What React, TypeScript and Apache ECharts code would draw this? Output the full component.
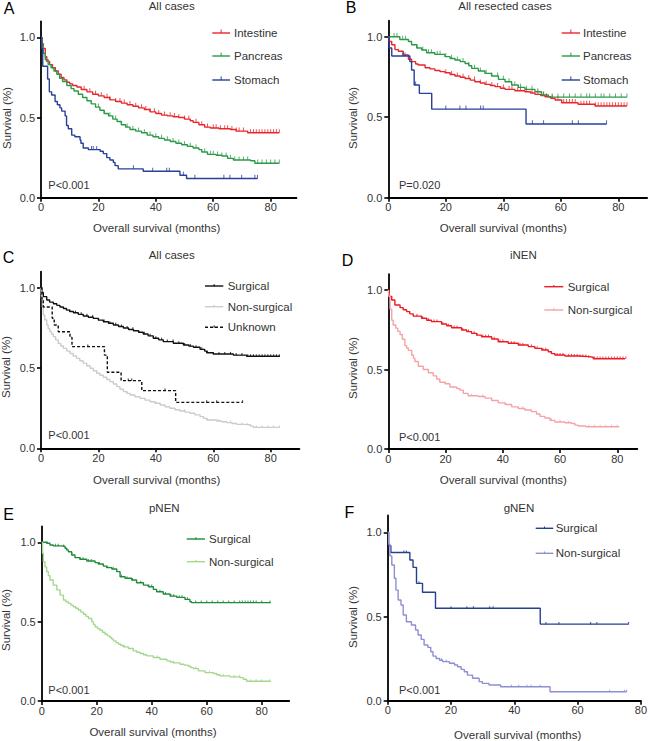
import React, { useEffect, useRef } from "react";
import * as echarts from "echarts";

type Pt = [number, number];

// ---------- Panel A: All cases ----------
const A_intestine: Pt[] = [[0,1],[0.3,0.96],[0.8,0.93],[1.5,0.88],[2,0.85],[3,0.83],[4,0.81],[5,0.79],[6,0.77],[7,0.75],[8,0.735],[9,0.72],[10,0.71],[11,0.70],[12.5,0.69],[14,0.675],[16,0.66],[18,0.645],[20,0.635],[22,0.625],[24,0.61],[26,0.60],[28,0.59],[30,0.58],[32,0.57],[34,0.56],[36,0.55],[38,0.535],[40,0.525],[42,0.515],[44,0.51],[46,0.505],[48,0.50],[50,0.49],[52,0.48],[53,0.47],[55,0.455],[57,0.44],[59,0.435],[62,0.43],[66,0.425],[68,0.415],[72,0.405],[83,0.405]];
const A_intestine_censor = [15,17,19,21,23,24,26,27.5,29,31,33,35,36.5,38,39.5,41,43,45,46.5,48,50,51.5,54,56,58,60,61,62.5,64,65,66.5,68,69,70.5,73,74,75,76,77,78,79,80,81,82,83];
const A_pancreas: Pt[] = [[0,1],[0.3,0.95],[0.8,0.9],[1.5,0.86],[2.5,0.83],[3.5,0.81],[4.5,0.79],[5.5,0.77],[6.5,0.745],[7.5,0.725],[9,0.70],[10.5,0.68],[11.5,0.665],[13,0.645],[14.5,0.625],[16,0.605],[17.5,0.585],[19,0.565],[20.5,0.545],[22,0.525],[23.5,0.51],[25,0.49],[26.5,0.475],[28,0.455],[29.5,0.44],[31,0.425],[33,0.415],[35,0.405],[37,0.39],[39,0.38],[41,0.37],[43,0.36],[45,0.35],[47,0.34],[49,0.33],[51,0.32],[53,0.31],[55,0.30],[56,0.285],[58,0.27],[61,0.265],[63,0.26],[65,0.245],[67,0.235],[73,0.23],[74.5,0.215],[83,0.215]];
const A_pancreas_censor = [20,22,24,26,28,30,32,34,36,38,40,42,44,46,48,50,52,54,57,59,60,61.5,63,64.5,66,67.5,69,70.5,72,75.5,77,78.5,80,81.5,83];
const A_stomach: Pt[] = [[0,1],[0.3,0.93],[0.6,0.82],[2.3,0.74],[2.9,0.66],[3.7,0.64],[4.9,0.60],[5.7,0.58],[6.6,0.56],[7.2,0.54],[8.4,0.51],[8.9,0.45],[9.5,0.43],[10.7,0.39],[11.8,0.38],[13.6,0.36],[13.9,0.34],[14.7,0.31],[16.5,0.30],[20.6,0.29],[21.7,0.275],[22.9,0.25],[24,0.235],[25.2,0.22],[25.8,0.20],[26.9,0.18],[35.6,0.165],[48.4,0.14],[50.7,0.12],[75.4,0.12]];
const A_stomach_censor = [17.6,18.2,19.4,32.2,38.9,43.8,44.7,49.6,53.6,63.7,65.8,69.9,74.5,75.4];

// ---------- Panel B: All resected cases ----------
const B_intestine: Pt[] = [[0,1],[0.3,0.97],[1.2,0.95],[2.3,0.92],[3.5,0.91],[5.2,0.886],[7,0.86],[8.1,0.845],[9.5,0.83],[10.4,0.824],[12.8,0.807],[14.5,0.80],[16.2,0.79],[18,0.783],[19.7,0.776],[21.5,0.765],[23.2,0.756],[25,0.748],[26.7,0.74],[28.5,0.73],[30.1,0.72],[32,0.712],[33.6,0.704],[35.5,0.697],[37.1,0.69],[39,0.68],[40.6,0.673],[44,0.664],[47.5,0.658],[49.5,0.65],[51,0.642],[53,0.635],[54.5,0.627],[56.5,0.617],[58,0.607],[60.3,0.59],[66,0.58],[71.9,0.57],[83,0.57]];
const B_intestine_censor = [20,22,24,26,28,30,32,34,36,38,40,42,43,45,46,48,50,52,54,55,57,59,61,62,63,64,65,67,68,69,70,72,73,74,75,76,77,78,79,80,81,82,83];
const B_pancreas: Pt[] = [[0,1],[4,0.983],[7,0.97],[8.1,0.95],[9.9,0.93],[11.6,0.917],[13.3,0.90],[16.2,0.89],[19.7,0.876],[21.5,0.865],[23.2,0.855],[25,0.845],[26.7,0.834],[28,0.82],[29,0.803],[31.3,0.787],[33.6,0.772],[35.9,0.756],[38.3,0.735],[40.6,0.72],[42.9,0.70],[45.2,0.685],[47.5,0.673],[51,0.658],[53.3,0.638],[55.7,0.625],[83,0.625]];
const B_pancreas_censor = [2,3,5,6,10,12,14,15,17,18,20,22,24,26,28,30,32,34,36,38,40,42,44,46,48,50,52,54,57,59,61,63,65,67,69,70,72,74,75,77,79,81,83];
const B_stomach: Pt[] = [[0,1],[0.3,0.93],[1.2,0.88],[7.5,0.845],[8.1,0.793],[9,0.70],[10.8,0.648],[15.1,0.55],[47.9,0.458],[75.9,0.458]];
const B_stomach_censor = [5,5.8,9.5,20,24.9,27,32.1,33,50.1,54,64,66.1,75.9];

// ---------- Panel C: All cases by surgery ----------
const C_surgical: Pt[] = [[0,1],[0.3,0.97],[0.8,0.944],[2,0.923],[3,0.91],[4.3,0.90],[5.5,0.89],[6.6,0.88],[7.8,0.87],[8.9,0.86],[10,0.852],[11.3,0.844],[13,0.834],[14.7,0.824],[16.5,0.816],[18.2,0.809],[20,0.798],[21.7,0.788],[23.5,0.778],[25.2,0.768],[27,0.758],[28.7,0.749],[30.5,0.74],[32.2,0.732],[34,0.722],[35.6,0.712],[37.3,0.70],[39.1,0.685],[41,0.675],[42.6,0.664],[46.1,0.654],[49.6,0.643],[51.5,0.636],[53.1,0.629],[55.4,0.616],[57,0.605],[57.7,0.595],[60,0.587],[67,0.58],[71.6,0.573],[83.2,0.573]];
const C_surgical_censor = [10,12,14,16,18,20,22,24,26,28,30,32,34,36,38,40,42,44,46,48,50,52,54,56,58,60,62,64,66,68,70,72,73,74,75,76,77,78,79,80,81,82,83];
const C_nonsurgical: Pt[] = [[0,1],[0.2,0.93],[0.5,0.88],[0.8,0.83],[1.3,0.80],[2,0.768],[2.5,0.745],[3.1,0.726],[3.7,0.71],[4.3,0.695],[5.1,0.675],[6,0.653],[6.9,0.637],[7.8,0.622],[9,0.605],[10.1,0.59],[11.2,0.575],[12.4,0.56],[13.5,0.545],[14.7,0.53],[15.9,0.514],[17.1,0.498],[18.2,0.483],[19.4,0.467],[20.5,0.455],[21.7,0.442],[22.9,0.428],[24,0.415],[25.2,0.4],[26.4,0.384],[27.5,0.368],[28.7,0.353],[29.9,0.342],[31,0.332],[32.7,0.321],[34.5,0.311],[36.2,0.30],[38,0.29],[39.7,0.28],[41.5,0.27],[43.2,0.259],[44.9,0.249],[46.7,0.24],[48.4,0.232],[50.2,0.225],[51.9,0.218],[53.6,0.208],[55.4,0.197],[56.6,0.186],[57.7,0.176],[61.2,0.17],[63,0.165],[64.7,0.16],[66.5,0.154],[68.2,0.149],[71.6,0.145],[73,0.138],[74,0.13],[83.2,0.129]];
const C_nonsurgical_censor = [30,40,50,58,62,66,70,72,75,77,79,81,83];
const C_unknown: Pt[] = [[0,1],[0.3,0.93],[0.8,0.88],[3.9,0.81],[4.6,0.768],[6,0.726],[10.1,0.69],[10.8,0.633],[22.1,0.58],[23.1,0.473],[27.9,0.421],[35.1,0.359],[46.9,0.286],[70.2,0.286]];
const C_unknown_censor = [16.3,30.4,31.6,43.2,57.7,61.2,70.2];

// ---------- Panel D: iNEN ----------
const D_surgical: Pt[] = [[0,1],[0.3,0.96],[1.2,0.937],[2.3,0.906],[4.1,0.889],[5.2,0.876],[6.4,0.864],[7.5,0.85],[8.7,0.836],[11.6,0.822],[13.4,0.81],[15.1,0.801],[18.6,0.786],[20.4,0.775],[22.1,0.763],[25.6,0.748],[27.4,0.738],[29.1,0.727],[30.9,0.716],[32.6,0.706],[36.1,0.692],[38.4,0.675],[41.9,0.665],[45.4,0.654],[48.9,0.644],[51.2,0.633],[53.6,0.623],[55.9,0.612],[57,0.60],[58.2,0.591],[61.7,0.585],[66.4,0.581],[69.9,0.577],[71.6,0.568],[82.7,0.568]];
const D_surgical_censor = [10,12,14,16,17,19,21,23,24,26,28,30,31,33,34,35,37,39,40,43,44,46,47,50,52,54,55,57,59,60,61,63,64,65,66,67,68,69,70,72,73,74,75,76,77,78,79,80,81,82,83];
const D_nonsurgical: Pt[] = [[0,1],[0.2,0.96],[0.6,0.88],[1.2,0.81],[1.7,0.78],[2.6,0.76],[3.3,0.74],[4.1,0.72],[4.9,0.69],[5.8,0.65],[6.4,0.635],[7,0.62],[8.2,0.59],[8.8,0.57],[9.3,0.55],[10.5,0.52],[12.2,0.50],[14,0.48],[15.7,0.46],[16.9,0.44],[18,0.42],[19.8,0.41],[21.5,0.39],[23.9,0.38],[25,0.37],[26.2,0.35],[27.9,0.335],[31.4,0.33],[33.8,0.32],[36.1,0.305],[38.4,0.29],[40.8,0.28],[43.1,0.265],[45.4,0.255],[47.7,0.245],[50,0.235],[51.8,0.22],[53,0.205],[54.7,0.195],[56.5,0.18],[58.2,0.17],[61.7,0.165],[64,0.16],[65.2,0.15],[66.4,0.145],[69,0.14],[80.7,0.14]];
const D_nonsurgical_censor = [20,29,33,41,47,57,60,63,70,72,74,76,78,80];

// ---------- Panel E: pNEN ----------
const E_surgical: Pt[] = [[0,1],[1.8,0.994],[3,0.983],[4.2,0.977],[7.3,0.973],[8.5,0.962],[9.1,0.952],[9.7,0.94],[10.9,0.92],[12.1,0.903],[13.9,0.893],[16.4,0.882],[19.4,0.872],[20.6,0.863],[22.4,0.85],[23.6,0.84],[25.5,0.832],[27.3,0.815],[28.5,0.783],[30.3,0.773],[32.7,0.762],[34.5,0.745],[37,0.73],[38.8,0.72],[40.6,0.703],[41.8,0.688],[44.2,0.674],[46.7,0.661],[49.1,0.653],[52.1,0.64],[53.9,0.625],[54.5,0.62],[83.3,0.62]];
const E_surgical_censor = [2,5,6,8,11,14,15,17,18,21,24,26,29,31,33,36,39,40,43,45,47,48,50,51,53,56,58,60,62,64,66,68,70,72,73,74,75,76,77,78,80,83];
const E_nonsurgical: Pt[] = [[0,1],[0.3,0.93],[0.6,0.878],[1.2,0.845],[1.8,0.815],[2.4,0.79],[3,0.762],[4.2,0.73],[5.5,0.70],[6.7,0.667],[7.9,0.636],[8.8,0.625],[9.7,0.615],[10.6,0.604],[11.5,0.594],[12.4,0.584],[13.3,0.573],[14.2,0.56],[15.2,0.547],[16.1,0.533],[17,0.52],[18.2,0.50],[18.8,0.483],[19.4,0.467],[20.3,0.456],[21.2,0.446],[22.1,0.433],[23,0.421],[23.9,0.41],[24.8,0.40],[25.5,0.39],[26.1,0.379],[27,0.368],[27.9,0.358],[28.8,0.35],[29.7,0.341],[31.5,0.331],[33.3,0.316],[34.5,0.307],[35.8,0.299],[37,0.291],[38.2,0.284],[40.6,0.274],[43,0.263],[45.5,0.253],[46.7,0.246],[47.9,0.24],[50.3,0.232],[51.8,0.226],[53.3,0.219],[54.2,0.21],[55.2,0.204],[57,0.19],[59.4,0.179],[62.4,0.173],[63.6,0.165],[64.8,0.158],[68.5,0.152],[72.1,0.147],[73.3,0.137],[74.5,0.124],[83.3,0.124]];
const E_nonsurgical_censor = [30,37,42,48,56,61,66,70,72,76,78,80,83];

// ---------- Panel F: gNEN ----------
const F_surgical: Pt[] = [[0,1],[0.3,0.92],[1,0.88],[7,0.836],[8,0.792],[9.1,0.697],[11,0.644],[15.1,0.549],[48.2,0.455],[76.1,0.455]];
const F_surgical_censor = [5.1,5.9,9.9,20,25,27.1,32.2,33.3,50,54.1,64.1,66.1,76.1];
const F_nonsurgical: Pt[] = [[0,1],[0.3,0.93],[0.7,0.86],[1.3,0.806],[2.1,0.727],[2.6,0.657],[3.3,0.598],[4.2,0.568],[4.9,0.509],[5.9,0.469],[7.5,0.45],[8.8,0.42],[9.6,0.39],[10.6,0.364],[11.5,0.331],[12.7,0.317],[13.6,0.291],[14.3,0.265],[15.3,0.251],[16.4,0.24],[17.4,0.232],[19.5,0.222],[21.1,0.212],[22.1,0.202],[23.2,0.186],[24.2,0.172],[25.2,0.152],[26.8,0.133],[28.9,0.113],[29.9,0.103],[32,0.093],[35.7,0.083],[51.3,0.053],[75.5,0.053]];
const F_nonsurgical_censor = [17,18.5,39.1,41.4,44,45.3,48.2,70.1,74.8,75.5];

const panelLetters = ["A", "B", "C", "D", "E", "F"];
const panelTitles = ["All cases", "All resected cases", "All cases", "iNEN", "pNEN", "gNEN"];
const pValues = ["P<0.001", "P=0.020", "P<0.001", "P<0.001", "P<0.001", "P<0.001"];
const xTicks = [0, 20, 40, 60, 80];
const yTicks = [0, 0.5, 1.0];
const xAxisTitle = "Overall survival (months)";
const yAxisTitle = "Survival (%)";

const FONT = '"Liberation Sans", Arial, Helvetica, sans-serif';
const TXT = "#333333";

type Curve = { name: string; data: Pt[]; censor: number[]; color: string; dashed?: boolean; big?: boolean };

const panelCurves: Curve[][] = [
  [
    { name: "Intestine", data: A_intestine, censor: A_intestine_censor, color: "#e8262b", big: true },
    { name: "Pancreas", data: A_pancreas, censor: A_pancreas_censor, color: "#2a9a48", big: true },
    { name: "Stomach", data: A_stomach, censor: A_stomach_censor, color: "#27409a", big: true },
  ],
  [
    { name: "Intestine", data: B_intestine, censor: B_intestine_censor, color: "#e8262b", big: true },
    { name: "Pancreas", data: B_pancreas, censor: B_pancreas_censor, color: "#2a9a48", big: true },
    { name: "Stomach", data: B_stomach, censor: B_stomach_censor, color: "#27409a", big: true },
  ],
  [
    { name: "Surgical", data: C_surgical, censor: C_surgical_censor, color: "#111111" },
    { name: "Non-surgical", data: C_nonsurgical, censor: C_nonsurgical_censor, color: "#cccccc" },
    { name: "Unknown", data: C_unknown, censor: C_unknown_censor, color: "#111111", dashed: true },
  ],
  [
    { name: "Surgical", data: D_surgical, censor: D_surgical_censor, color: "#ec1c24" },
    { name: "Non-surgical", data: D_nonsurgical, censor: D_nonsurgical_censor, color: "#f5a3a6" },
  ],
  [
    { name: "Surgical", data: E_surgical, censor: E_surgical_censor, color: "#1e8c3a" },
    { name: "Non-surgical", data: E_nonsurgical, censor: E_nonsurgical_censor, color: "#a6d78e" },
  ],
  [
    { name: "Surgical", data: F_surgical, censor: F_surgical_censor, color: "#24408e" },
    { name: "Non-surgical", data: F_nonsurgical, censor: F_nonsurgical_censor, color: "#8e8ed4" },
  ],
];

// Layout (pixel geometry of each panel)
const layouts = [
  { grid: { left: 41, top: 21.3, width: 255.5, height: 176.4 }, xMax: 89, letter: [9, 8], title: [171.7, 6], p: [48.3, 185], yT: [7, 118], xT: [156.7, 228], leg: { x1: 212.3, x2: 230, tx: 234, ys: [33, 56, 80] } },
  { grid: { left: 388.3, top: 20.6, width: 258.8, height: 177.1 }, xMax: 90, letter: [351, 7], title: [505, 6], p: [399, 185], yT: [353, 118], xT: [503.3, 228], leg: { x1: 561.7, x2: 580, tx: 583, ys: [33, 56, 80] } },
  { grid: { left: 41, top: 271.6, width: 258.4, height: 176.7 }, xMax: 90, letter: [8.5, 257.5], title: [171.7, 255], p: [48.3, 435], yT: [6, 367], xT: [156.7, 480], leg: { x1: 205, x2: 223.3, tx: 227.7, ys: [286, 306.7, 327.3] } },
  { grid: { left: 388.3, top: 274.1, width: 249, height: 174.9 }, xMax: 87, letter: [347.5, 260.5], title: [523.3, 255], p: [399, 436.7], yT: [353, 368], xT: [503.3, 480], leg: { x1: 544.3, x2: 563.3, tx: 567.7, ys: [286.7, 310] } },
  { grid: { left: 41.7, top: 526.4, width: 247.5, height: 174.6 }, xMax: 90, letter: [8.5, 514], title: [164.3, 508], p: [48.3, 690], yT: [6, 620], xT: [153, 732], leg: { x1: 186.7, x2: 205, tx: 209, ys: [539, 561.7] } },
  { grid: { left: 387.7, top: 515.5, width: 255.6, height: 185.2 }, xMax: 80, letter: [349.5, 512.5], title: [519, 508], p: [399, 690], yT: [353, 617], xT: [517.7, 735], leg: { x1: 535.7, x2: 553.3, tx: 555.7, ys: [528.3, 553.3] } },
];

function survAt(curve: Pt[], t: number): number {
  let s = curve[0][1];
  for (const [x, y] of curve) {
    if (x <= t) s = y;
    else break;
  }
  return s;
}

function txt(text: string, x: number, y: number, size: number, align: string, extra: any = {}, color = TXT) {
  return {
    type: "text",
    x,
    y,
    ...extra,
    style: {
      text,
      fontSize: size,
      fontFamily: FONT,
      fontWeight: "normal",
      fill: color,
      textAlign: align,
      textVerticalAlign: "middle",
    },
  };
}

function buildOption() {
  const grids: any[] = [];
  const xAxes: any[] = [];
  const yAxes: any[] = [];
  const series: any[] = [];
  const graphics: any[] = [];

  layouts.forEach((L, i) => {
    grids.push({ ...L.grid, containLabel: false });
    xAxes.push({
      type: "value",
      gridIndex: i,
      min: 0,
      max: L.xMax,
      interval: 20,
      axisLine: { show: true, onZero: false, lineStyle: { color: "#000", width: 1.8 } },
      axisTick: { show: true, length: 4, customValues: xTicks, lineStyle: { color: "#000", width: 1.6 } },
      axisLabel: { customValues: xTicks, fontSize: 11, color: TXT, fontFamily: FONT, margin: 4 },
      splitLine: { show: false },
    });
    yAxes.push({
      type: "value",
      gridIndex: i,
      min: 0,
      max: 1.1,
      interval: 0.5,
      axisLine: { show: true, onZero: false, lineStyle: { color: "#000", width: 1.8 } },
      axisTick: { show: true, length: 4, customValues: yTicks, lineStyle: { color: "#000", width: 1.6 } },
      axisLabel: {
        customValues: yTicks,
        fontSize: 11,
        color: TXT,
        fontFamily: FONT,
        margin: 6,
        formatter: (v: number) => v.toFixed(1),
      },
      splitLine: { show: false },
    });

    panelCurves[i].forEach((c) => {
      series.push({
        type: "line",
        name: panelLetters[i] + " " + c.name,
        xAxisIndex: i,
        yAxisIndex: i,
        step: "end",
        showSymbol: false,
        symbol: "none",
        silent: true,
        lineStyle: { color: c.color, width: 1.4, type: c.dashed ? [3, 2] : "solid" },
        data: c.data,
        z: 3,
      });
      series.push({
        type: "scatter",
        name: panelLetters[i] + " " + c.name + " censored",
        xAxisIndex: i,
        yAxisIndex: i,
        symbol: "rect",
        symbolSize: c.big ? [1, 3.6] : [1.1, 2.4],
        symbolOffset: c.big ? [0, -1.8] : [0, -0.9],
        itemStyle: { color: c.color },
        silent: true,
        data: c.censor.map((t) => [t, survAt(c.data, t)]),
        z: 4,
      });
    });

    graphics.push(txt(panelLetters[i], L.letter[0], L.letter[1], 16, "center", {}, "#000"));
    graphics.push(txt(panelTitles[i], L.title[0], L.title[1], 11.5, "center"));
    graphics.push(txt(pValues[i], L.p[0], L.p[1], 11, "left"));
    graphics.push(txt(xAxisTitle, L.xT[0], L.xT[1], 11.5, "center"));
    graphics.push(txt(yAxisTitle, L.yT[0], L.yT[1], 11.5, "center", { rotation: Math.PI / 2 }));

    panelCurves[i].forEach((c, k) => {
      const y = L.leg.ys[k];
      graphics.push({
        type: "line",
        shape: { x1: L.leg.x1, y1: y, x2: L.leg.x2, y2: y },
        style: { stroke: c.color, lineWidth: 1.4, lineDash: c.dashed ? [3, 2] : null },
      });
      const mid = (L.leg.x1 + L.leg.x2) / 2;
      graphics.push({
        type: "rect",
        shape: c.big ? { x: mid - 0.5, y: y - 3.6, width: 1, height: 3.6 } : { x: mid - 0.55, y: y - 1.8, width: 1.1, height: 2.2 },
        style: { fill: c.color },
      });
      graphics.push(txt(c.name, L.leg.tx, y, 11.5, "left"));
    });
  });

  return {
    animation: false,
    backgroundColor: "#ffffff",
    grid: grids,
    xAxis: xAxes,
    yAxis: yAxes,
    series,
    graphic: { elements: graphics },
  };
}

export default function App() {
  const ref = useRef<HTMLDivElement>(null);
  useEffect(() => {
    if (!ref.current) return;
    const chart = echarts.init(ref.current, null, { renderer: "svg" });
    chart.setOption(buildOption() as any);
    return () => chart.dispose();
  }, []);
  return (
    <div
      ref={ref}
      style={{ position: "fixed", left: 0, top: 0, width: 650, height: 741, background: "#fff" }}
    />
  );
}
